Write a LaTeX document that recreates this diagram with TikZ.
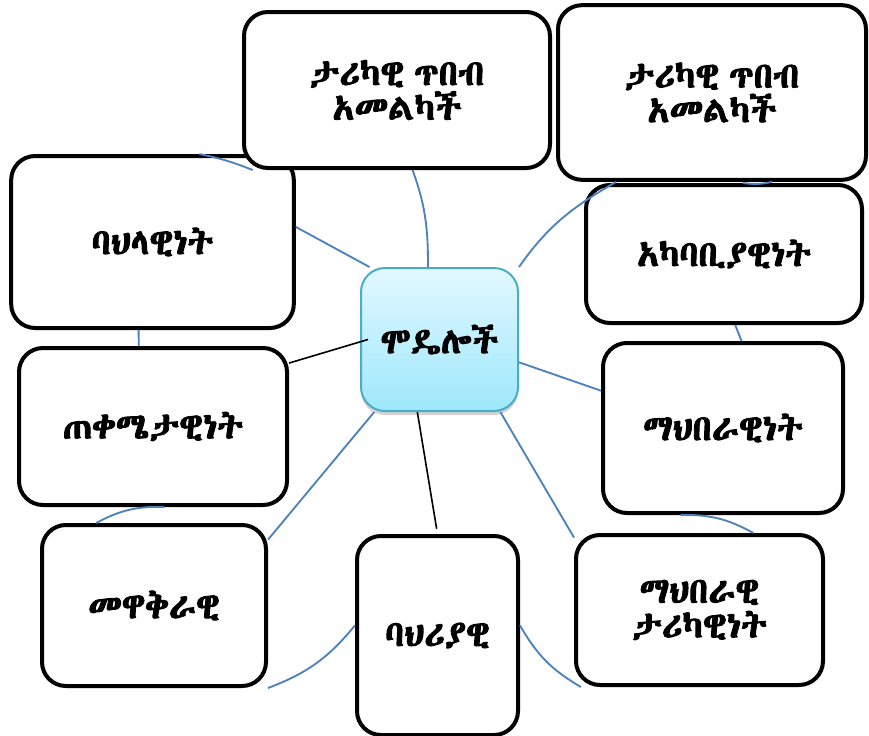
\documentclass[tikz,border=0pt]{standalone}
\usepackage{fontspec}
\newfontfamily\ethfont{Abyssinica SIL}[FakeBold=2.5, WordSpace=0.6]
\usetikzlibrary{shadows}
\definecolor{linkblue}{RGB}{79,129,189}
\definecolor{hubedge}{RGB}{75,172,198}
\definecolor{hubtop}{RGB}{226,248,255}
\definecolor{hubbottom}{RGB}{158,232,252}
\tikzset{
  box/.style={draw, line width=3pt, rounded corners=18pt, fill=white,
              align=center, font=\ethfont\fontsize{27}{26}\selectfont},
  hub/.style={draw=hubedge, line width=1.5pt, rounded corners=18pt,
              top color=hubtop, bottom color=hubbottom,
              drop shadow={opacity=0.35, shadow xshift=0pt, shadow yshift=-3pt},
              font=\ethfont\fontsize{27}{30}\selectfont},
  link/.style={draw=linkblue, line width=1.4pt},
  plainlink/.style={draw=black, line width=1.2pt}
}
\begin{document}
\begin{tikzpicture}[x=0.75pt,y=-0.75pt]
  \useasboundingbox (0,0) rectangle (869,736);
  % outer boxes
  \node [box, minimum width=212pt, minimum height=129pt] (bahilawi) at (152.5,242) {ባህላዊነት};
  \node [box, minimum width=229.5pt, minimum height=117pt] (tikinit) at (397,90) {ታሪካዊ ጥበብ\\አመልካች};
  \node [box, minimum width=231pt, minimum height=131pt] (tikinitr) at (712,92.5) {ታሪካዊ ጥበብ\\አመልካች};
  \node [box, minimum width=207pt, minimum height=103.5pt] (akababi) at (724,254) {አካባቢያዊነት};
  \node [box, minimum width=201pt, minimum height=117.75pt] (tekemeta) at (153,426.5) {ጠቀሜታዊነት};
  \node [box, minimum width=180pt, minimum height=127.5pt] (mahiberawi) at (723,428) {ማህበራዊነት};
  \node [box, minimum width=168pt, minimum height=120.75pt] (mewakirawi) at (154,605.5) {መዋቅራዊ};
  \node [box, minimum width=120.75pt, minimum height=149.25pt] (bahiriyawi) at (437.5,635.5) {ባህሪያዊ};
  \node [box, minimum width=185.25pt, minimum height=112.5pt] (mahtarik) at (699.5,610) {ማህበራዊ\\ታሪካዊነት};
  % centre
  \node [hub, minimum width=117.75pt, minimum height=107.25pt] (modeloch) at (439.5,339.5) {ሞዴሎች};

  \draw [link] (modeloch.134) -- (bahilawi.6);
  \draw [link] (modeloch.99) to[out=90, in=-70] (tikinit.-79);
  \draw [link] (modeloch.north east) to[out=55, in=-150] (tikinitr.-137);
  \draw [link] (modeloch.-16) -- (mahiberawi.163);
  \draw [link] (modeloch.-132.5) -- (mewakirawi.30);
  \draw [link] (modeloch.-50) -- (mahtarik.150);
  % ring pieces between the boxes
  \draw [link] (bahilawi.62.6) to[bend left=5] (tikinit.-151.6);
  \draw [link] (akababi.75) to[bend right=10] (tikinitr.-56);
  \draw [link] (bahilawi.-99) -- (tekemeta.100);
  \draw [link] (akababi.-81) -- (mahiberawi.78);
  \draw [link] (tekemeta.-82) to[bend right=15] (mewakirawi.125);
  \draw [link] (mahiberawi.-116) to[bend left=15] (mahtarik.55);
  \draw [link] (mewakirawi.south east) to[bend right=15] (bahiriyawi.173);
  \draw [link] (bahiriyawi.7) to[bend right=15] (mahtarik.-147);
  \draw [plainlink] ([xshift=6pt]modeloch.west) -- (tekemeta.25.7);
  \draw [plainlink, shorten >=4pt] (modeloch.-107) -- (bahiriyawi.north);
\end{tikzpicture}
\end{document}
